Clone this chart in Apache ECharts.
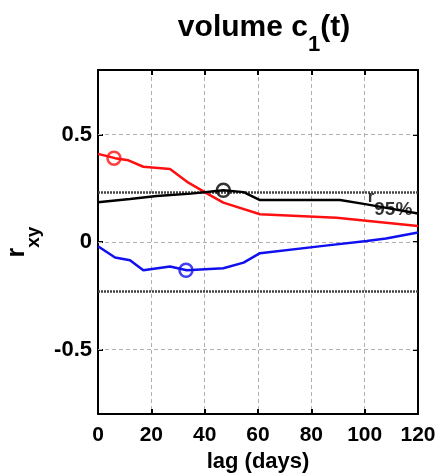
<!DOCTYPE html>
<html>
<head>
<meta charset="utf-8">
<script src="https://cdn.jsdelivr.net/npm/echarts@6/dist/echarts.min.js"></script>
<style>html,body{margin:0;padding:0;background:#fff}#c{width:441px;height:476px}</style>
</head>
<body>
<div id="c"></div>
<script>
// ---- data ----
const xTicks = [0, 20, 40, 60, 80, 100, 120];
const yTicks = [-0.5, 0, 0.5];
const redLag = [0, 6.4, 11.4, 17, 27, 33.9, 40.8, 47, 60.75, 89.5, 120];
const redR   = [0.41, 0.39, 0.38, 0.35, 0.34, 0.276, 0.226, 0.183, 0.129, 0.113, 0.074];
const blackLag = [0, 12, 22, 34.9, 47, 54.6, 60.75, 90.75, 100.75, 120];
const blackR   = [0.185, 0.2, 0.214, 0.225, 0.241, 0.232, 0.195, 0.195, 0.175, 0.133];
const blueLag = [0, 6.4, 12, 17, 27, 33.3, 47, 54.6, 60.75, 84.5, 100.75, 108, 120];
const blueR   = [-0.02, -0.072, -0.085, -0.131, -0.114, -0.131, -0.122, -0.096, -0.052, -0.018, 0.005, 0.016, 0.044];
const markerLag = [6, 47, 33];
const markerR = [0.39, 0.241, -0.131];
const threshold = [0.225, -0.225];
const r95Label = {lag: 109.5, r: 0.21};

const zip = (a, b) => a.map((v, i) => [v, b[i]]);
const font = 'Liberation Sans, Arial, sans-serif';
const chart = echarts.init(document.getElementById('c'));

const axisCommon = {
  type: 'value',
  axisLine: {show: true, onZero: false, lineStyle: {color: '#000', width: 2}},
  axisTick: {show: true, inside: true, length: 5, lineStyle: {color: '#000', width: 2}},
};

chart.setOption({
  animation: false,
  title: {
    text: 'volume c{sub|1}(t)',
    left: 259, top: -5, textAlign: 'center',
    textStyle: {
      fontFamily: font, fontWeight: 'bold', fontSize: 30, color: '#000',
      rich: {sub: {fontFamily: font, fontWeight: 'bold', fontSize: 22, color: '#000', padding: [34, 0, 0, 0]}}
    }
  },
  grid: {left: 98, right: 23, top: 70, bottom: 62, containLabel: false, outerBoundsMode: 'none'},
  xAxis: [
    Object.assign({}, axisCommon, {
      min: 0, max: 120, interval: 20, position: 'bottom',
      name: 'lag (days)', nameLocation: 'middle', nameGap: 36,
      nameTextStyle: {fontFamily: font, fontWeight: 'bold', fontSize: 22, color: '#000'},
      axisLabel: {fontFamily: font, fontWeight: 'bold', fontSize: 21, color: '#000', margin: 11,
        customValues: xTicks},
      splitLine: {show: true, lineStyle: {color: '#b0b0b0', type: [4, 3], width: 1}}
    }),
    Object.assign({}, axisCommon, {
      min: 0, max: 120, interval: 20, position: 'top',
      axisLabel: {show: false}, splitLine: {show: false}
    })
  ],
  yAxis: [
    Object.assign({}, axisCommon, {
      min: -0.8, max: 0.8, position: 'left',
      axisTick: Object.assign({}, axisCommon.axisTick, {customValues: yTicks}),
      axisLabel: {fontFamily: font, fontWeight: 'bold', fontSize: 22, color: '#000', margin: 6,
        customValues: yTicks, formatter: v => (v === 0 ? '0' : String(v))},
      splitLine: {show: false},
      name: 'r{sub|xy}', nameLocation: 'middle', nameGap: 55, nameRotate: 90,
      nameTextStyle: {fontFamily: font, fontWeight: 'bold', fontSize: 25, color: '#000',
        rich: {sub: {fontFamily: font, fontWeight: 'bold', fontSize: 19, color: '#000', padding: [32, 0, 0, 0]}}}
    }),
    Object.assign({}, axisCommon, {
      min: -0.8, max: 0.8, position: 'right',
      axisTick: Object.assign({}, axisCommon.axisTick, {customValues: yTicks}),
      axisLabel: {show: false}, splitLine: {show: false}
    })
  ],
  series: [
    {
      type: 'line', data: [], silent: true,
      markLine: {
        symbol: 'none', silent: true, label: {show: false},
        lineStyle: {color: '#b0b0b0', type: [4, 3], width: 1},
        data: yTicks.map(v => ({yAxis: v}))
      }
    },
    {
      type: 'line', data: [], silent: true, z: 3,
      markLine: {
        symbol: 'none', silent: true, label: {show: false},
        lineStyle: {color: '#444', type: [2, 1], width: 2.5},
        data: threshold.map(v => ({yAxis: v}))
      }
    },
    {type: 'line', data: zip(redLag, redR), showSymbol: false, lineStyle: {color: '#ff1010', width: 2.5}, z: 5},
    {type: 'line', data: zip(blackLag, blackR), showSymbol: false, lineStyle: {color: '#000', width: 2.5}, z: 5},
    {type: 'line', data: zip(blueLag, blueR), showSymbol: false, lineStyle: {color: '#1010ee', width: 2.5}, z: 5},
    {
      type: 'scatter', z: 6,
      symbol: 'circle', symbolSize: 13,
      data: markerLag.map((v, i) => ({
        value: [v, markerR[i]],
        itemStyle: {color: 'rgba(0,0,0,0)', borderColor: ['#ff1010', '#000', '#1010ee'][i], borderWidth: 2.5}
      }))
    },
    {
      type: 'scatter', z: 7, silent: true,
      symbol: 'circle', symbolSize: 1, itemStyle: {color: 'rgba(0,0,0,0)'},
      data: [[r95Label.lag, r95Label.r]],
      label: {show: true, formatter: 'r{sub|95%}', position: 'inside',
        fontFamily: font, fontWeight: 'bold', fontSize: 17, color: '#000',
        rich: {sub: {fontFamily: font, fontWeight: 'bold', fontSize: 19, color: '#000', padding: [26, 0, 0, 0]}}}
    }
  ]
});
</script>
</body>
</html>
